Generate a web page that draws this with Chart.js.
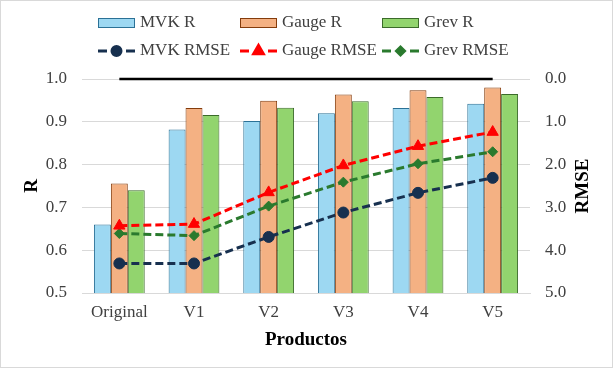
<!DOCTYPE html>
<html>
<head>
<meta charset="utf-8">
<script src="https://cdn.jsdelivr.net/npm/chart.js@4/dist/chart.umd.min.js"></script>
<style>
  html, body { margin: 0; padding: 0; background: #fff; }
  #wrap { position: relative; width: 613px; height: 368px; }
</style>
</head>
<body>
<div id="wrap"><canvas id="chart" width="613" height="368"></canvas></div>
<script>
const categories = ["Original", "V1", "V2", "V3", "V4", "V5"];

// correlation (left axis)
const mvkR = [0.66, 0.882, 0.902, 0.92, 0.932, 0.942];
const gaugeR = [0.756, 0.932, 0.949, 0.964, 0.974, 0.98];
const grevR = [0.74, 0.916, 0.933, 0.948, 0.958, 0.965];
const perfectR = [1, 1, 1, 1, 1, 1];

// error (right axis, reversed)
const mvkRmse = [4.31, 4.31, 3.69, 3.12, 2.66, 2.31];
const gaugeRmse = [3.43, 3.39, 2.65, 2.02, 1.57, 1.24];
const grevRmse = [3.61, 3.66, 2.97, 2.41, 1.98, 1.7];

const rRange = [0.5, 1.0, 0.1];
const rmseRange = [0, 5, 1];

const serif = "'Liberation Serif', 'Times New Roman', serif";
Chart.defaults.font.family = serif;
Chart.defaults.color = "#404040";

// legend drawn in two aligned rows, like the original
const legendPlugin = {
  id: "gridLegend",
  afterDraw(chart) {
    const ctx = chart.ctx;
    const cols = [98, 240, 382];
    const rows = [23, 51];
    ctx.save();
    // outer frame
    ctx.strokeStyle = "#d9d9d9";
    ctx.lineWidth = 1;
    ctx.strokeRect(0.5, 0.5, chart.width - 1, chart.height - 1);

    ctx.font = "17px " + serif;
    ctx.textBaseline = "middle";
    ctx.fillStyle = "#404040";
    chart.data.datasets.forEach((ds) => {
      if (ds.legendSlot === undefined) return;
      const x = cols[ds.legendSlot % 3];
      const y = rows[Math.floor(ds.legendSlot / 3)];
      if (ds.type === "line") {
        ctx.strokeStyle = ds.borderColor;
        ctx.lineWidth = ds.borderWidth;
        ctx.setLineDash([9, 19]);
        ctx.beginPath();
        ctx.moveTo(x, y);
        ctx.lineTo(x + 37, y);
        ctx.stroke();
        ctx.setLineDash([]);
        ctx.fillStyle = ds.pointBackgroundColor;
        ctx.strokeStyle = ds.pointBorderColor;
        Chart.helpers.drawPoint(ctx, {
          pointStyle: ds.pointStyle,
          radius: ds.pointRadius - 1,
          borderWidth: 1,
          rotation: 0,
        }, x + 18.5, y);
      } else {
        ctx.fillStyle = ds.backgroundColor;
        ctx.fillRect(x, y - 4.5, 37, 9);
        ctx.strokeStyle = ds.borderColor;
        ctx.lineWidth = 1;
        ctx.strokeRect(x + 0.5, y - 4.5, 36, 9);
      }
      ctx.fillStyle = "#404040";
      ctx.fillText(ds.label, x + 42, y);
    });

    // right axis title, reading upwards
    const area = chart.chartArea;
    ctx.translate(583, (area.top + area.bottom) / 2);
    ctx.rotate(-Math.PI / 2);
    ctx.font = "bold 19px " + serif;
    ctx.fillStyle = "#000";
    ctx.textAlign = "center";
    ctx.fillText("RMSE", 0, 0);
    ctx.restore();
  },
};

function barSet(label, data, fill, edge, slot) {
  return {
    type: "bar",
    label: label,
    data: data,
    backgroundColor: fill,
    borderColor: edge,
    borderWidth: 1,
    yAxisID: "y",
    order: 2,
    legendSlot: slot,
  };
}

function lineSet(label, data, color, style, radius, slot) {
  return {
    type: "line",
    label: label,
    data: data,
    borderColor: color,
    borderWidth: 3,
    borderDash: [8, 4],
    pointStyle: style,
    pointRadius: radius,
    pointBackgroundColor: color,
    pointBorderColor: color,
    pointBorderWidth: 1,
    yAxisID: "y2",
    order: 1,
    legendSlot: slot,
  };
}

new Chart(document.getElementById("chart"), {
  data: {
    labels: categories,
    datasets: [
      {
        type: "line",
        label: "R = 1",
        data: perfectR,
        borderColor: "#000",
        borderWidth: 2.5,
        pointRadius: 0,
        clip: false,
        yAxisID: "y",
        order: 0,
      },
      lineSet("MVK RMSE", mvkRmse, "#17304f", "circle", 5.5, 3),
      lineSet("Gauge RMSE", gaugeRmse, "#ff0000", "triangle", 6.5, 4),
      lineSet("Grev RMSE", grevRmse, "#2a7a2e", "rectRot", 5, 5),
      barSet("MVK R", mvkR, "#9dd8f2", "#2b7196", 0),
      barSet("Gauge R", gaugeR, "#f4b183", "#843c0c", 1),
      barSet("Grev R", grevR, "#92d46e", "#3b6b2a", 2),
    ],
  },
  options: {
    responsive: false,
    animation: false,
    layout: { padding: { top: 79, left: 0, right: 0, bottom: 0 } },
    datasets: {
      bar: { categoryPercentage: 0.68, barPercentage: 1.0 },
    },
    plugins: {
      legend: { display: false },
      tooltip: { enabled: false },
    },
    scales: {
      x: {
        grid: { display: false, drawTicks: false },
        border: { color: "#d9d9d9" },
        ticks: { padding: 9, font: { size: 17 }, color: "#404040" },
        title: {
          display: true,
          text: "Productos",
          font: { size: 19, weight: "bold" },
          color: "#000",
          padding: { top: 0, bottom: 17 },
        },
        afterFit(scale) { scale.height = 75; },
      },
      y: {
        position: "left",
        min: rRange[0],
        max: rRange[1],
        ticks: {
          stepSize: rRange[2],
          padding: 15,
          font: { size: 17 },
          color: "#404040",
          callback: (v) => v.toFixed(1),
        },
        grid: { color: "#d9d9d9", drawTicks: false },
        border: { display: false },
        title: {
          display: true,
          text: "R",
          font: { size: 19, weight: "bold" },
          color: "#000",
          padding: { top: 21, bottom: 0 },
        },
        afterFit(scale) { scale.width = 82; },
      },
      y2: {
        position: "right",
        reverse: true,
        min: rmseRange[0],
        max: rmseRange[1],
        ticks: {
          stepSize: rmseRange[2],
          padding: 15,
          font: { size: 17 },
          color: "#404040",
          callback: (v) => v.toFixed(1),
        },
        grid: { display: false, drawTicks: false },
        border: { display: false },
        afterFit(scale) { scale.width = 83; },
      },
    },
  },
  plugins: [legendPlugin],
});
</script>
</body>
</html>
